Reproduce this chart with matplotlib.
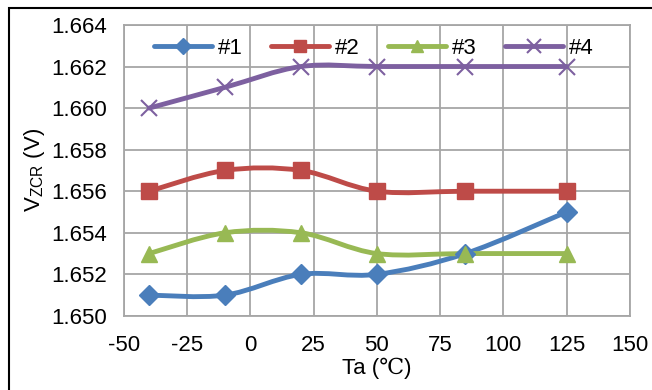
import matplotlib
matplotlib.use("Agg")
import matplotlib.pyplot as plt
from matplotlib.path import Path
from matplotlib.patches import PathPatch, Rectangle
from matplotlib.lines import Line2D

# data
temps = [-40, -10, 20, 50, 85, 125]
v1 = [1.651, 1.651, 1.652, 1.652, 1.653, 1.655]
v2 = [1.656, 1.657, 1.657, 1.656, 1.656, 1.656]
v3 = [1.653, 1.654, 1.654, 1.653, 1.653, 1.653]
v4 = [1.660, 1.661, 1.662, 1.662, 1.662, 1.662]
names = ["#1", "#2", "#3", "#4"]

colors = ["#4A7EBB", "#BE4B48", "#98B954", "#7D60A0"]
markers = ["D", "s", "^", "x"]
msizes = [10, 11, 11, 12]

plt.rcParams["font.family"] = ["Liberation Sans", "DejaVu Sans"]
plt.rcParams["mathtext.fontset"] = "custom"
plt.rcParams["mathtext.rm"] = "Liberation Sans"
plt.rcParams["axes.unicode_minus"] = False


def smooth_path(xs, ys):
    # Excel-like smoothed line: cubic bezier segments with Catmull-Rom tangents
    pts = list(zip(xs, ys))
    verts = [pts[0]]
    codes = [Path.MOVETO]
    n = len(pts)
    for i in range(n - 1):
        p0 = pts[i - 1] if i > 0 else pts[i]
        p1 = pts[i]
        p2 = pts[i + 1]
        p3 = pts[i + 2] if i + 2 < n else pts[i + 1]
        c1 = (p1[0] + (p2[0] - p0[0]) / 6, p1[1] + (p2[1] - p0[1]) / 6)
        c2 = (p2[0] - (p3[0] - p1[0]) / 6, p2[1] - (p3[1] - p1[1]) / 6)
        verts += [c1, c2, p2]
        codes += [Path.CURVE4] * 3
    return Path(verts, codes)


fig = plt.figure(figsize=(6.52, 3.9), dpi=100)
ax = fig.add_axes([0.190, 0.190, 0.776, 0.746])

handles = []
for ys, name, c, m, ms in zip([v1, v2, v3, v4], names, colors, markers, msizes):
    ax.add_patch(PathPatch(smooth_path(temps, ys), fill=False, edgecolor=c,
                           lw=3.5, capstyle="round", zorder=3))
    if m == "x":
        ax.plot(temps, ys, ls="none", marker=m, ms=ms, mew=1.5, color=c, zorder=4)
    else:
        ax.plot(temps, ys, ls="none", marker=m, ms=ms, color=c, mec=c, zorder=4)
    handles.append(Line2D([], [], color=c, lw=3.5, marker=m, ms=ms - 2,
                          mew=1.5 if m == "x" else 1, solid_capstyle="round"))

ax.set_xlim(-50, 150)
ax.set_ylim(1.650, 1.664)
ax.set_xticks(range(-50, 151, 25))
ax.set_yticks([1.650, 1.652, 1.654, 1.656, 1.658, 1.660, 1.662, 1.664])
ax.set_yticklabels(["%.3f" % v for v in ax.get_yticks()])
ax.tick_params(axis="y", length=0, labelsize=16, pad=12)
ax.tick_params(axis="x", length=0, labelsize=16, pad=14)
ax.grid(True, color="#A6A6A6", lw=1.3)
ax.set_axisbelow(True)
for s in ax.spines.values():
    s.set_color("#A6A6A6")
    s.set_linewidth(1.3)

ax.set_xlabel("Ta (℃)", fontsize=16, labelpad=1,
              family=["Liberation Sans", "DejaVu Serif"])
ax.set_ylabel("V$_{\\mathrm{ZCR}}$ (V)", fontsize=16, labelpad=3)

ax.legend(handles, names, loc="upper center", bbox_to_anchor=(0.494, 1.025),
          ncol=4, frameon=False, fontsize=16, handlelength=2.6,
          handletextpad=0.25, columnspacing=1.3)

# outer chart border
fig.patches.append(Rectangle((9 / 652, -0.05), 1.2, 1 - 8 / 390 + 0.05,
                             transform=fig.transFigure, fill=False,
                             edgecolor="black", lw=1.5))

fig.savefig("out.png", dpi=100)
